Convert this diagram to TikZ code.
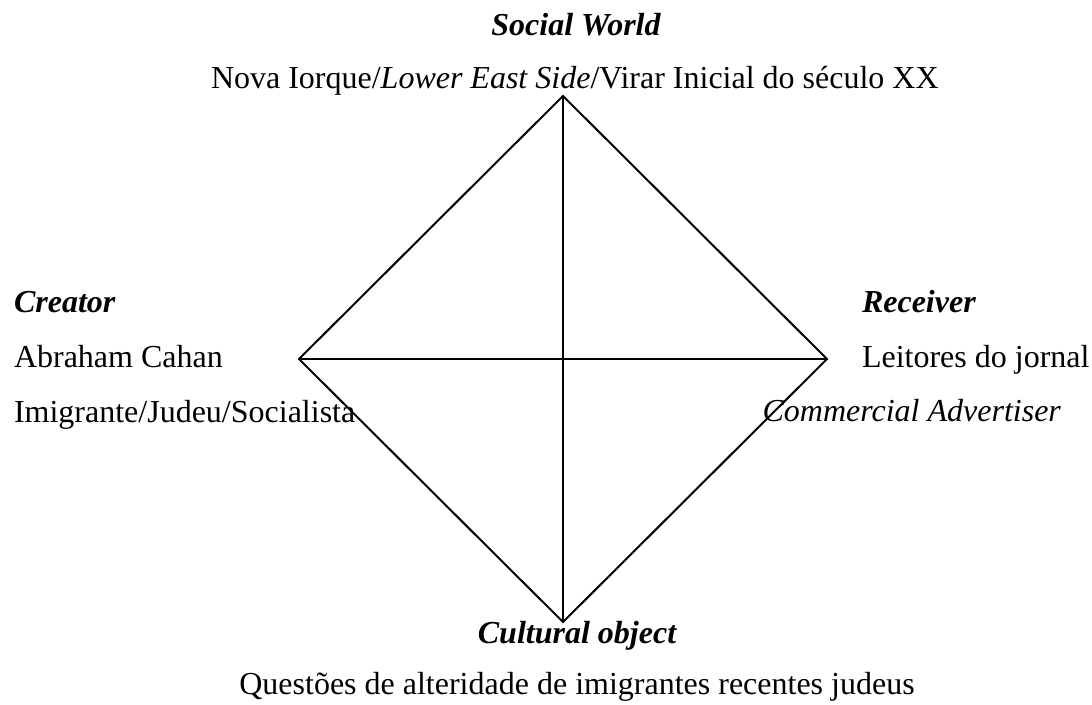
\documentclass[tikz,border=0pt]{standalone}
\usepackage{fontspec}
\setmainfont{Liberation Serif}

\tikzset{every picture/.style={line width=1.5pt}}
\tikzset{
	txt/.style={inner sep=0pt, font=\fontsize{24}{28}\selectfont},
	head/.style={txt, font=\fontsize{24}{28}\selectfont\bfseries\itshape}}

\begin{document}
\begin{tikzpicture}[x=0.75pt,y=0.75pt,yscale=-1,xscale=1]
	\useasboundingbox (0,0) rectangle (1092,704);
	
	% corners of the diamond
	\coordinate (top) at (563,96);
	\coordinate (lft) at (299,359);
	\coordinate (rgt) at (827,359);
	\coordinate (bot) at (563,622);
	
	% Social World
	\node [head, anchor=base] (sworld) at (576,35) {Social World};
	\node [txt, anchor=base west] (sworldtxt) at (210,88) {Nova Iorque/\textit{Lower East Side}/Virar Inicial do século XX};
	% Creator
	\node [head, anchor=base west] (creator) at (13,312) {Creator};
	\node [txt, anchor=base west] (creatorA) at (13,367) {Abraham Cahan};
	\node [txt, anchor=base west] (creatorB) at (13,422) {Imigrante/Judeu/Socialista};
	% Receiver
	\node [head, anchor=base west] (receiver) at (861,312) {Receiver};
	\node [txt, anchor=base west] (receiverA) at (861,367) {Leitores do jornal};
	\node [txt, anchor=base east] (receiverB) at (1062,421) {\textit{Commercial Advertiser}};
	% Cultural object
	\node [head, anchor=base] (cobject) at (577,643) {Cultural object};
	\node [txt, anchor=base] (cobjecttxt) at (577,694) {Questões de alteridade de imigrantes recentes judeus};
	
	% diamond and its cross
	\draw (top) -- (rgt) -- (bot) -- (lft) -- cycle;
	\draw (top) -- (bot);
	\draw (lft) -- (rgt);
	
\end{tikzpicture}
\end{document}
